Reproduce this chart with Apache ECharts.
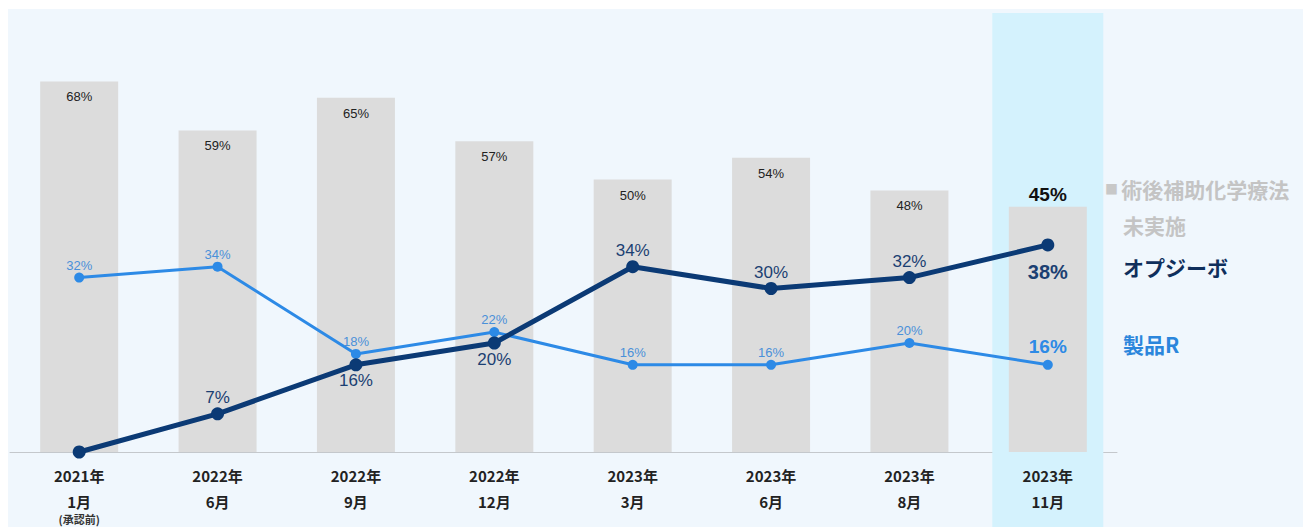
<!DOCTYPE html>
<html>
<head>
<meta charset="utf-8">
<script src="https://cdn.jsdelivr.net/npm/echarts@6/dist/echarts.min.js"></script>
<style>
html,body{margin:0;padding:0;background:#ffffff;}
#panel{position:absolute;left:8px;top:9px;width:1295px;height:518px;background:#f0f7fd;}
#chart{position:absolute;left:0;top:0;width:1305px;height:527px;}
</style>
</head>
<body>
<div id="panel"></div>
<div id="chart"></div>
<script>
// ---- data ----
const yearLabels = ['2021年','2022年','2022年','2022年','2023年','2023年','2023年','2023年'];
const monthLabels = ['1月','6月','9月','12月','3月','6月','8月','11月'];
const noteLabels = ['(承認前)','','','','','','',''];
const notAdministered = [68, 59, 65, 57, 50, 54, 48, 45];   // 術後補助化学療法 未実施
const opdivo = [0, 7, 16, 20, 34, 30, 32, 38];              // オプジーボ
const productR = [32, 34, 18, 22, 16, 16, 20, 16];          // 製品R
const highlight = [null, null, null, null, null, null, null, 1];

const categories = yearLabels.map((y, i) => y + '\n' + monthLabels[i] + (noteLabels[i] ? '\n' + noteLabels[i] : ''));

const opdivoPos = ['top','top','bottom','bottom','top','top','top','bottom'];
const last = categories.length - 1;

const JP = '"Noto Sans CJK JP", "Noto Sans", sans-serif';
const LAT = '"Liberation Sans", Arial, sans-serif';

const chart = echarts.init(document.getElementById('chart'), null, {renderer: 'svg'});

const option = {
  backgroundColor: 'transparent',
  animation: false,
  grid: [
    {left: 10, right: 188, top: 16, bottom: 75},
    {left: 10, right: 188, top: 13, bottom: 0}
  ],
  xAxis: [
    {
      type: 'category', gridIndex: 0, data: categories,
      axisLine: {show: true, lineStyle: {color: '#c4c8cc', width: 1}},
      axisTick: {show: false},
      axisLabel: {
        interval: 0, margin: 10,
        formatter: function (v) {
          const parts = v.split('\n');
          let s = '{a|' + parts[0] + '}\n{b|' + parts[1] + '}';
          if (parts[2]) s += '\n{c|' + parts[2] + '}';
          return s;
        },
        rich: {
          a: {fontFamily: JP, fontSize: 15, fontWeight: 'bold', color: '#222', lineHeight: 26},
          b: {fontFamily: JP, fontSize: 15, fontWeight: 'bold', color: '#222', lineHeight: 26},
          c: {fontFamily: JP, fontSize: 11, fontWeight: 'bold', color: '#333', lineHeight: 10}
        }
      }
    },
    {
      type: 'category', gridIndex: 1, data: categories, show: false
    }
  ],
  yAxis: [
    {type: 'value', gridIndex: 0, min: 0, max: 80, show: false, splitLine: {show: false}},
    {type: 'value', gridIndex: 1, min: 0, max: 1, show: false, splitLine: {show: false}}
  ],
  series: [
    {
      name: 'highlight', type: 'bar', xAxisIndex: 1, yAxisIndex: 1,
      data: highlight, barWidth: 111, z: 0, silent: true,
      itemStyle: {color: '#d4f2fd'}
    },
    {
      name: '術後補助化学療法未実施', type: 'bar', xAxisIndex: 0, yAxisIndex: 0,
      barWidth: 78, z: 2,
      itemStyle: {color: '#dcdcdc'},
      data: notAdministered.map((v, i) => ({
        value: v,
        label: i === last
          ? {show: true, position: 'top', distance: 3, fontSize: 19, fontWeight: 'bold', color: '#111', fontFamily: LAT}
          : {show: true, position: 'insideTop', distance: 9, fontSize: 13, color: '#222', fontFamily: LAT}
      })),
      label: {formatter: '{c}%'}
    },
    {
      name: 'オプジーボ', type: 'line', xAxisIndex: 0, yAxisIndex: 0, z: 4,
      symbol: 'circle', symbolSize: 13,
      lineStyle: {color: '#0b3a75', width: 5},
      itemStyle: {color: '#0b3a75'},
      data: opdivo.map((v, i) => ({
        value: v,
        label: i === 0 ? {show: false}
          : i === last
            ? {show: true, position: 'bottom', distance: 11, fontSize: 20, fontWeight: 'bold', color: '#1b3f72', fontFamily: LAT}
            : {show: true, position: opdivoPos[i], distance: 1, fontSize: 17, color: '#1b3f72', fontFamily: LAT}
      })),
      label: {formatter: '{c}%'}
    },
    {
      name: '製品R', type: 'line', xAxisIndex: 0, yAxisIndex: 0, z: 3,
      symbol: 'circle', symbolSize: 10,
      lineStyle: {color: '#2d8ae6', width: 3},
      itemStyle: {color: '#2d8ae6'},
      data: productR.map((v, i) => ({
        value: v,
        label: i === last
          ? {show: true, position: 'top', distance: 4, fontSize: 19, fontWeight: 'bold', color: '#2d8ae6', fontFamily: LAT}
          : {show: true, position: 'top', distance: 1, fontSize: 13, color: '#4a90d9', fontFamily: LAT}
      })),
      label: {formatter: '{c}%'}
    }
  ],
  graphic: [
    {
      type: 'text', left: 1105, top: 178,
      style: {
        text: '{sq|■} {t|術後補助化学療法}',
        rich: {
          sq: {fontSize: 13, fill: '#c8c8c8', fontFamily: JP},
          t: {fontSize: 21, fontWeight: 'bold', fill: '#c4c4c4', fontFamily: JP}
        }
      }
    },
    {
      type: 'text', left: 1123, top: 214,
      style: {text: '未実施', fontSize: 21, fontWeight: 'bold', fill: '#c4c4c4', fontFamily: JP}
    },
    {
      type: 'text', left: 1123, top: 256,
      style: {text: 'オプジーボ', fontSize: 21, fontWeight: 'bold', fill: '#0f2f5c', fontFamily: JP}
    },
    {
      type: 'text', left: 1123, top: 333,
      style: {text: '製品R', fontSize: 21, fontWeight: 'bold', fill: '#2b86dc', fontFamily: JP}
    }
  ]
};
chart.setOption(option);
</script>
</body>
</html>
